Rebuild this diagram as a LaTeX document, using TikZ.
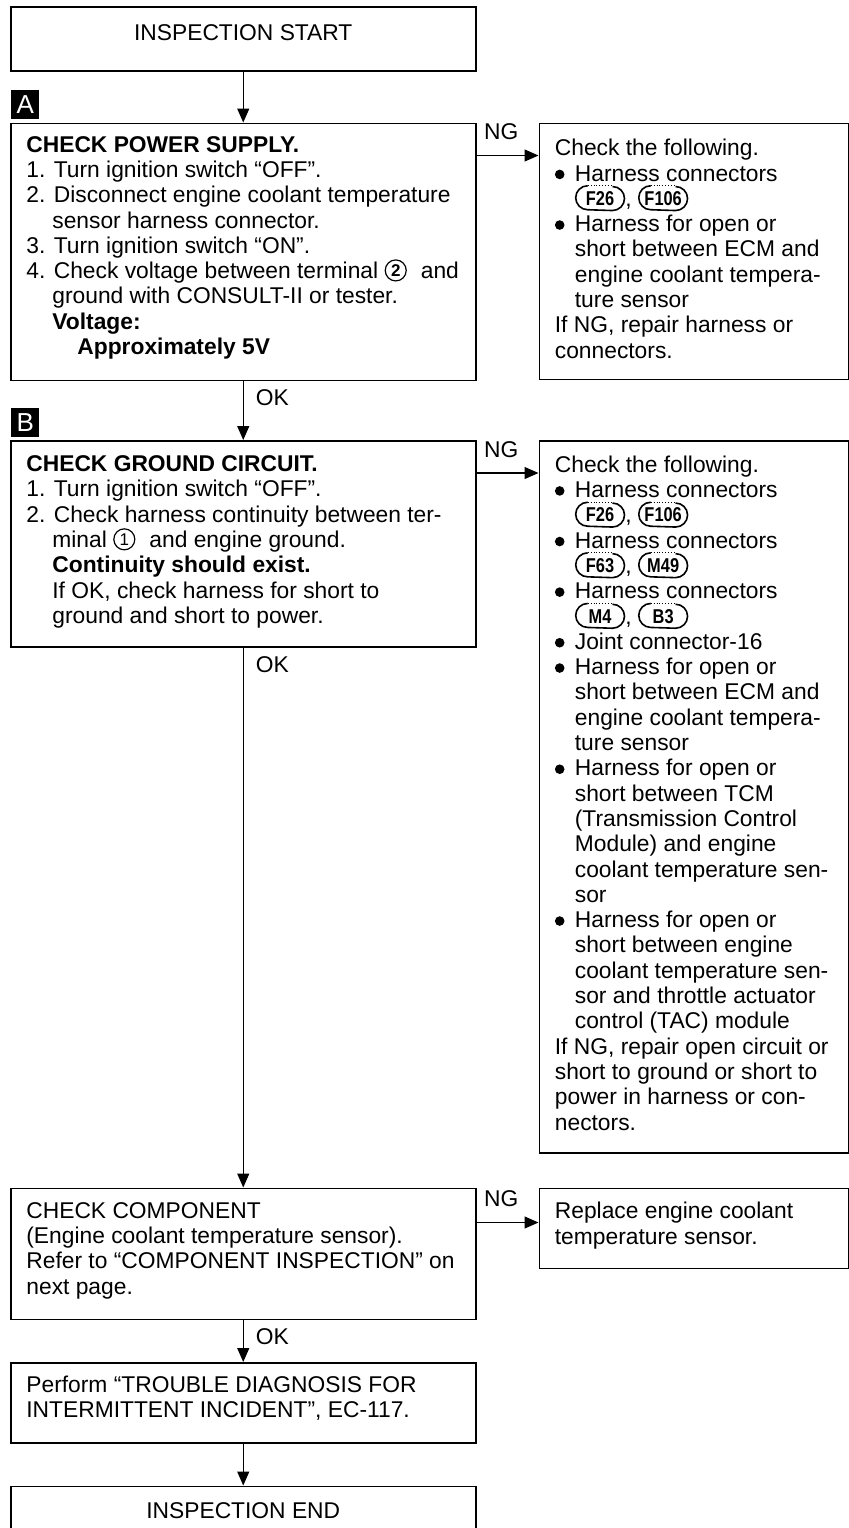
\documentclass[tikz,border=0pt]{standalone}
\usepackage{fontspec}
\setmainfont{Liberation Sans}
\usepackage{graphicx}
\usetikzlibrary{arrows.meta,positioning}

% indents for continued lines
\newcommand{\numind}{\hspace*{13pt}}
\newcommand{\bulind}{\hspace*{10pt}}
% bullet
\newcommand{\blt}{\makebox[10pt][l]{\tikz[baseline=-3.3pt]\fill (2.4pt,0pt) circle[radius=2.4pt];}}
% harness connector symbol
\newcommand{\conn}[1]{\tikz[baseline={([yshift=-4.1pt]cn.center)}]{%
  \node[inner sep=0pt, anchor=center, execute at begin node={},
    text height=7.2pt, text depth=0pt,
    minimum width=24pt, minimum height=12pt,
    font=\fontsize{10pt}{10pt}\selectfont\bfseries] (cn) {\scalebox{0.82}[1]{#1}};
  \draw[line width=0.8pt] ([xshift=6pt]cn.north west)
    arc[start angle=90, end angle=270, radius=6pt]
    -- ([xshift=-6pt]cn.south east)
    arc[start angle=-90, end angle=90, radius=6pt];
  \draw[line width=0.45pt, densely dotted] ([xshift=6pt]cn.north west)
    -- ([xshift=-6pt]cn.north east);}}
% circled terminal number
\newcommand{\term}[2][]{\tikz[baseline={([yshift=-4.1pt]tn.center)}]\node[circle, draw,
  anchor=center, execute at begin node={}, text height=6.1pt, text depth=0pt,
  line width=0.6pt, inner sep=0pt, minimum size=10.5pt,
  font=\fontsize{8.5pt}{8.5pt}\selectfont#1] (tn) {#2};}

\begin{document}
\begin{tikzpicture}[
    x=1pt, y=1pt,
    font=\fontsize{11.4pt}{12.65pt}\selectfont,
    box/.style={draw, line width=0.75pt, inner sep=0pt, anchor=north west},
    txt/.style={inner sep=0pt, align=left, anchor=north west,
      execute at begin node=\strut},
    marker/.style={fill=black, text=white, inner sep=0pt,
      minimum width=14pt, minimum height=14.5pt,
      font=\fontsize{13pt}{13pt}\selectfont},
    flow/.style={-{Triangle[length=7pt,width=6pt]}, line width=0.6pt},
    nglbl/.style={above=7.5pt, inner sep=0pt, pos=0.4},
    oklbl/.style={anchor=north west, inner sep=0pt, pos=0,
      xshift=6pt, yshift=-4pt}
  ]
    \useasboundingbox (0,0) rectangle (424,-764);

    % Main column
    \node[box, minimum width=232.5pt, minimum height=32pt, text depth=6pt]
      (start) at (5,-3) {INSPECTION START};

    \node[box, minimum width=232.5pt, minimum height=128.5pt,
      below=25.5pt of start] (chkpwr) {};
    \node[txt] (chkpwrtxt) at ([shift={(8,-6.65)}]chkpwr.north west)
      {\textbf{CHECK POWER SUPPLY.}\\
       1. Turn ignition switch “OFF”.\\
       2. Disconnect engine coolant temperature\\
       \numind sensor harness connector.\\
       3. Turn ignition switch “ON”.\\
       4. Check voltage between terminal \term[\bfseries]{2}\hspace{7pt}and\\
       \numind ground with CONSULT-II or tester.\\
       \numind\textbf{Voltage:}\\
       \numind\hspace*{12.5pt}\textbf{Approximately 5V}};
    \node[marker, above right=1.5pt and 0.5pt of chkpwr.north west] (mka) {A};

    \node[box, minimum width=232.5pt, minimum height=103pt,
      below=29.5pt of chkpwr] (chkgnd) {};
    \node[txt] (chkgndtxt) at ([shift={(8,-7.65)}]chkgnd.north west)
      {\textbf{CHECK GROUND CIRCUIT.}\\
       1. Turn ignition switch “OFF”.\\
       2. Check harness continuity between ter-\\
       \numind minal \term{1}\hspace{7pt}and engine ground.\\
       \numind\textbf{Continuity should exist.}\\
       \numind If OK, check harness for short to\\
       \numind ground and short to power.};
    \node[marker, above right=1.5pt and 0.5pt of chkgnd.north west] (mkb) {B};

    \node[box, minimum width=232.5pt, minimum height=65.5pt,
      below=270pt of chkgnd] (chkcmp) {};
    \node[txt] (chkcmptxt) at ([shift={(8,-7.15)}]chkcmp.north west)
      {CHECK COMPONENT\\
       (Engine coolant temperature sensor).\\
       Refer to “COMPONENT INSPECTION” on\\
       next page.};

    \node[box, minimum width=232.5pt, minimum height=40pt,
      below=21pt of chkcmp] (perf) {};
    \node[txt] (perftxt) at ([shift={(8,-6.65)}]perf.north west)
      {Perform “TROUBLE DIAGNOSIS FOR\\
       INTERMITTENT INCIDENT”, EC-117.};

    \node[box, minimum width=232.5pt, minimum height=24pt,
      below=21pt of perf] (end) {INSPECTION END};

    % NG column
    \node[box, minimum width=154.5pt, minimum height=128pt,
      right=31pt of chkpwr.north east, anchor=north west] (pwrng) {};
    \node[txt] (pwrngtxt) at ([shift={(8,-8.15)}]pwrng.north west)
      {Check the following.\\
       \blt Harness connectors\\
       \bulind\conn{F26}, \conn{F106}\\
       \blt Harness for open or\\
       \bulind short between ECM and\\
       \bulind engine coolant tempera-\\
       \bulind ture sensor\\
       If NG, repair harness or\\
       connectors.};

    \node[box, minimum width=154.5pt, minimum height=356pt,
      right=31pt of chkgnd.north east, anchor=north west] (gndng) {};
    \node[txt] (gndngtxt) at ([shift={(8,-7.65)}]gndng.north west)
      {Check the following.\\
       \blt Harness connectors\\
       \bulind\conn{F26}, \conn{F106}\\
       \blt Harness connectors\\
       \bulind\conn{F63}, \conn{M49}\\
       \blt Harness connectors\\
       \bulind\conn{M4}, \conn{B3}\\
       \blt Joint connector-16\\
       \blt Harness for open or\\
       \bulind short between ECM and\\
       \bulind engine coolant tempera-\\
       \bulind ture sensor\\
       \blt Harness for open or\\
       \bulind short between TCM\\
       \bulind (Transmission Control\\
       \bulind Module) and engine\\
       \bulind coolant temperature sen-\\
       \bulind sor\\
       \blt Harness for open or\\
       \bulind short between engine\\
       \bulind coolant temperature sen-\\
       \bulind sor and throttle actuator\\
       \bulind control (TAC) module\\
       If NG, repair open circuit or\\
       short to ground or short to\\
       power in harness or con-\\
       nectors.};

    \node[box, minimum width=154.5pt, minimum height=40pt,
      right=31pt of chkcmp.north east, anchor=north west] (cmpng) {};
    \node[txt] (cmpngtxt) at ([shift={(8,-7.15)}]cmpng.north west)
      {Replace engine coolant\\
       temperature sensor.};

    % Flow connectors
    \draw[flow] (start) -- (chkpwr);
    \draw[flow] (chkpwr) -- node[oklbl] {OK} (chkgnd);
    \draw[flow] (chkgnd) -- node[oklbl] {OK} (chkcmp);
    \draw[flow] (chkcmp) -- node[oklbl] {OK} (perf);
    \draw[flow] (perf) -- (end);

    \draw[flow] ([yshift=-16.5pt]chkpwr.north east) --
      node[nglbl] {NG} ([yshift=-16.5pt]pwrng.north west);
    \draw[flow] ([yshift=-16.5pt]chkgnd.north east) --
      node[nglbl] {NG} ([yshift=-16.5pt]gndng.north west);
    \draw[flow] ([yshift=-17.5pt]chkcmp.north east) --
      node[nglbl] {NG} ([yshift=-17.5pt]cmpng.north west);
\end{tikzpicture}
\end{document}
